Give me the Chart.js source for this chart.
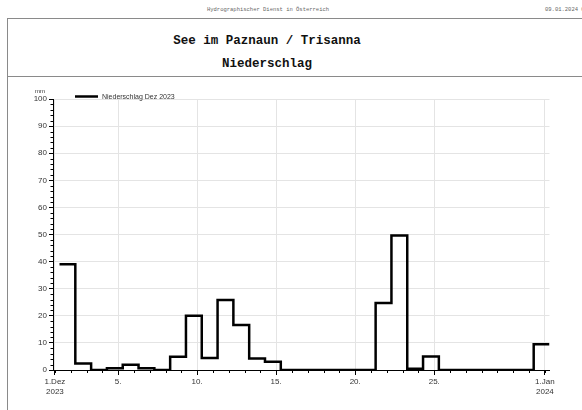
<!DOCTYPE html>
<html>
<head>
<meta charset="utf-8">
<script src="https://cdn.jsdelivr.net/npm/chart.js@4/dist/chart.umd.min.js"></script>
<style>
  html, body { margin: 0; padding: 0; background: #fff; }
  body { width: 582px; height: 410px; position: relative; overflow: hidden; }
  .hline { position: absolute; left: 8px; right: 0; height: 0; border-top: 1px solid #8a8a8a; }
  .vline { position: absolute; left: 7px; top: 18px; bottom: 0; width: 0; border-left: 1px solid #8a8a8a; }
  .mono { position: absolute; font-family: "Liberation Mono", "DejaVu Sans Mono", monospace; white-space: nowrap; }
  .small { font-size: 5.5px; color: #666; line-height: 6px; }
  .title { font-size: 12.5px; font-weight: bold; color: #111; line-height: 14px; width: 534px; left: 0; text-align: center; }
  canvas { position: absolute; left: 0; top: 0; }
</style>
</head>
<body>
<div class="mono small" style="left:0;width:536px;text-align:center;top:7px;">Hydrographischer Dienst in Österreich</div>
<div class="mono small" style="left:545px;top:7px;">09.01.2024 07</div>
<div class="hline" style="top:18px;"></div>
<div class="hline" style="top:76px;"></div>
<div class="vline"></div>
<div class="mono title" style="top:34px;">See im Paznaun / Trisanna</div>
<div class="mono title" style="top:57px;">Niederschlag</div>
<canvas id="chart" width="582" height="410"></canvas>
<script>
// Daily precipitation, December 2023 (mm), one value per day of month
const days = [1,2,3,4,5,6,7,8,9,10,11,12,13,14,15,16,17,18,19,20,21,22,23,24,25,26,27,28,29,30,31];
const precip = [39,2.4,0,0.6,1.9,0.6,0,4.9,20,4.4,25.8,16.6,4.2,3.0,0,0,0,0,0,0,24.7,49.6,0.5,5.0,0,0,0,0,0,0,9.5];
const seriesLabel = 'Niederschlag Dez 2023';
const unitLabel = 'mm';

// Daily totals run from 07:00 to 07:00 of the next day
const readingHour = 7;

// Labelled day ticks (32 = 1 January of the next year)
const xTickDays = [1,5,10,15,20,25,32];
const xTickLabels = [['1.Dez','2023'],'5.','10.','15.','20.','25.',['1.Jan','2024']];
const yTicks = [0,10,20,30,40,50,60,70,80,90,100];

const offset = readingHour / 24;
const points = days.map((d, i) => ({ x: d - 1 + offset, y: precip[i] }));
// closing point so the last day's value is held until its end
points.push({ x: days[days.length - 1] + offset, y: precip[precip.length - 1] });

const sansFont = '"Liberation Sans", Arial, Helvetica, sans-serif';

// Minor ticks: every day on x, every 2 mm on y; plus the legend and unit text
const extras = {
  id: 'extras',
  afterDraw(chart) {
    const ctx = chart.ctx;
    const xs = chart.scales.x, ys = chart.scales.y;
    ctx.save();
    ctx.strokeStyle = '#000';
    ctx.lineWidth = 1;
    ctx.beginPath();
    for (let d = 0; d <= 31; d++) {
      const px = Math.round(xs.getPixelForValue(d)) + 0.5;
      ctx.moveTo(px, ys.bottom);
      ctx.lineTo(px, ys.bottom + 3);
    }
    for (let v = 2; v < 100; v += 2) {
      if (v % 10 === 0) continue;
      const py = Math.round(ys.getPixelForValue(v)) + 0.5;
      ctx.moveTo(xs.left - 2.5, py);
      ctx.lineTo(xs.left, py);
    }
    ctx.stroke();

    // unit above the value axis
    ctx.fillStyle = '#333';
    ctx.font = '6px ' + sansFont;
    ctx.textAlign = 'center';
    ctx.textBaseline = 'alphabetic';
    ctx.fillText(unitLabel, 40, 93);

    // legend
    const ds = chart.data.datasets[0];
    ctx.strokeStyle = ds.borderColor;
    ctx.lineWidth = 2.5;
    ctx.beginPath();
    ctx.moveTo(75, 96.5);
    ctx.lineTo(98, 96.5);
    ctx.stroke();
    ctx.fillStyle = '#333';
    ctx.font = '7px ' + sansFont;
    ctx.textAlign = 'left';
    ctx.textBaseline = 'middle';
    ctx.fillText(ds.label, 102, 97);
    ctx.restore();
  }
};

new Chart(document.getElementById('chart'), {
  type: 'line',
  data: {
    datasets: [{
      label: seriesLabel,
      data: points,
      stepped: 'before',
      borderColor: '#000',
      borderWidth: 2.5,
      pointRadius: 0,
      fill: false,
      tension: 0
    }]
  },
  options: {
    responsive: false,
    animation: false,
    devicePixelRatio: 1,
    layout: { padding: { top: 99, right: 32.5, bottom: 0, left: 0 } },
    plugins: { legend: { display: false }, tooltip: { enabled: false }, title: { display: false } },
    scales: {
      x: {
        type: 'linear',
        min: -0.12,
        max: 31 + offset,
        afterBuildTicks: s => { s.ticks = xTickDays.map(d => ({ value: d - 1 })); },
        afterFit: s => { s.height = 40; },
        ticks: {
          autoSkip: false,
          maxRotation: 0,
          padding: 2,
          color: '#333',
          font: { family: sansFont, size: 8 },
          callback: (v, i) => xTickLabels[i]
        },
        grid: { color: '#e4e4e4', tickColor: '#000', tickLength: 5, lineWidth: 1 },
        border: { color: '#000', width: 1 }
      },
      y: {
        min: 0,
        max: 100,
        afterBuildTicks: s => { s.ticks = yTicks.map(v => ({ value: v })); },
        afterFit: s => { s.width = 53; },
        ticks: {
          padding: 2,
          color: '#333',
          font: { family: sansFont, size: 8 }
        },
        grid: { color: '#e4e4e4', tickColor: '#000', tickLength: 4, lineWidth: 1 },
        border: { color: '#000', width: 1 }
      }
    }
  },
  plugins: [extras]
});
</script>
</body>
</html>
